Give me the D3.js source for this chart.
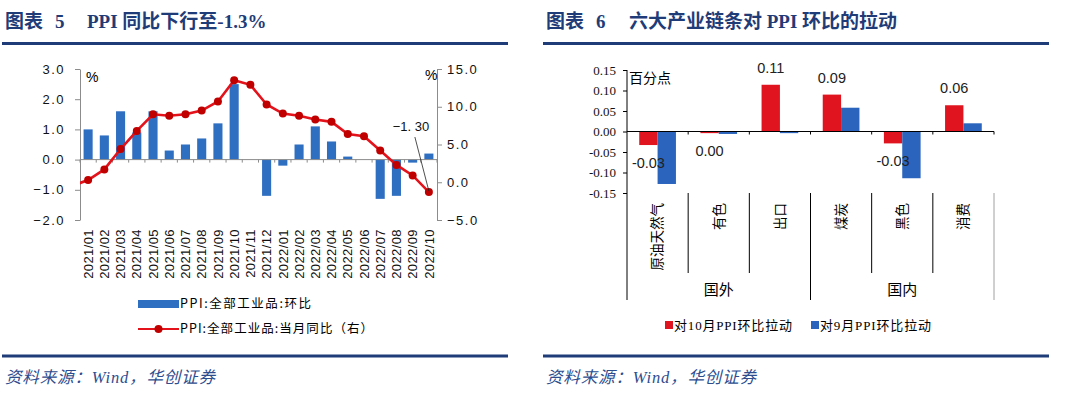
<!DOCTYPE html>
<html><head><meta charset="utf-8">
<script src="https://cdn.jsdelivr.net/npm/d3@7"></script>
<style>body{margin:0;background:#fff}svg{display:block}</style>
</head><body><svg id="c" width="1067" height="399"></svg>
<script>
// ---------- data: left chart ----------
const months = ["2021/01","2021/02","2021/03","2021/04","2021/05","2021/06","2021/07","2021/08","2021/09","2021/10","2021/11","2021/12",
                "2022/01","2022/02","2022/03","2022/04","2022/05","2022/06","2022/07","2022/08","2022/09","2022/10"];
const momValues = [1.0,0.8,1.6,0.9,1.6,0.3,0.5,0.7,1.2,2.5,0.0,-1.2,-0.2,0.5,1.1,0.6,0.1,0.0,-1.3,-1.2,-0.1,0.2];
const yoyValues = [0.3,1.7,4.4,6.8,9.0,8.8,9.0,9.5,10.7,13.5,12.9,10.3,9.1,8.8,8.3,8.0,6.4,6.1,4.2,2.3,0.9,-1.3];
const yoyPrevValue = -0.5;           // 2020/12, only its segment into the plot is visible
const leftTicks = [-2,-1,0,1,2,3];
const rightTicks = [-5,0,5,10,15];
const momName = "PPI:全部工业品:环比";
const yoyName = "PPI:全部工业品:当月同比（右）";
const lastLabel = "−1. 30";

// ---------- data: right chart ----------
const chains = ["原油天然气","有色","出口","煤炭","黑色","消费"];
const chainGroups = ["国外","国内"];
const chainsPerGroup = [3,3];
const pullOct = [-0.033,-0.004,0.114,0.090,-0.029,0.064];
const pullSep = [-0.128,-0.006,-0.004,0.058,-0.114,0.020];
const pullTicks = [-0.15,-0.10,-0.05,0,0.05,0.10,0.15];
const octName = "对10月PPI环比拉动";
const sepName = "对9月PPI环比拉动";

const svg = d3.select("#c");
const NAVY = "#1f3c78";
const CJK = "'Noto Sans CJK SC', sans-serif";
const TITLE_FONT = "'Liberation Serif', 'Noto Sans CJK SC'";

// ---------- headers / footers ----------
function header(x0, x1, num, title, numX, subX){
  svg.append("text").attr("x", x0+3).attr("y", 28).attr("fill", NAVY)
    .attr("font-family", TITLE_FONT).attr("font-weight", "bold").attr("font-size", 19).text("图表");
  svg.append("text").attr("x", numX).attr("y", 28).attr("fill", NAVY)
    .attr("font-family", TITLE_FONT).attr("font-weight", "bold").attr("font-size", 19).text(num);
  svg.append("text").attr("x", subX).attr("y", 28).attr("fill", NAVY)
    .attr("font-family", TITLE_FONT).attr("font-weight", "bold").attr("font-size", 19).text(title);
  svg.append("rect").attr("x", x0).attr("y", 42).attr("width", x1-x0).attr("height", 3).attr("fill", NAVY);
  svg.append("rect").attr("x", x0).attr("y", 354.5).attr("width", x1-x0).attr("height", 3).attr("fill", NAVY);
  svg.append("text").attr("x", x0+3).attr("y", 383).attr("fill", "#2d4d8f")
    .attr("font-family", TITLE_FONT).attr("font-style", "italic").attr("font-size", 16.5)
    .attr("textLength", 210).attr("lengthAdjust", "spacing")
    .text("资料来源：Wind，华创证券");
}
header(2, 508, "5", "PPI 同比下行至-1.3%", 55, 87);
header(543, 1049, "6", "六大产业链条对 PPI 环比的拉动", 596, 629);

// ---------- left chart ----------
const L = {x0: 80, x1: 437, yTop: 69, yBot: 220};
const xL = d3.scaleBand().domain(months).range([L.x0, L.x1]).paddingInner(0.44).paddingOuter(0.22);
const yL = d3.scaleLinear().domain([-2, 3]).range([L.yBot, L.yTop]);
const yR = d3.scaleLinear().domain([-5, 15]).range([L.yBot, L.yTop]);
const BLUE = "#2f6fc2", RED = "#e3121b", DRED = "#c00000";

// bars
svg.append("g").selectAll("rect").data(months).join("rect")
  .attr("x", d => xL(d)).attr("width", xL.bandwidth())
  .attr("y", (d,i) => yL(Math.max(0, momValues[i])))
  .attr("height", (d,i) => Math.abs(yL(momValues[i]) - yL(0)))
  .attr("fill", BLUE);

// axes
const axL = svg.append("g").attr("transform", `translate(${L.x0},0)`)
  .call(d3.axisLeft(yL).tickValues(leftTicks).tickFormat(d3.format(".1f")).tickSize(5).tickSizeOuter(0).tickPadding(10));
const axR = svg.append("g").attr("transform", `translate(${L.x1},0)`)
  .call(d3.axisRight(yR).tickValues(rightTicks).tickFormat(d3.format(".1f")).tickSize(5).tickSizeOuter(0).tickPadding(5));
[axL, axR].forEach(a => {
  a.selectAll("path,line").attr("stroke", "#8c8c8c");
  a.selectAll("text").attr("font-family", "'Liberation Sans', sans-serif").attr("font-size", 13)
    .attr("letter-spacing", 1.5).attr("fill", "#111");
});
// zero line with ticks
svg.append("line").attr("x1", L.x0).attr("x2", L.x1).attr("y1", yL(0)).attr("y2", yL(0)).attr("stroke", "#8c8c8c");
svg.append("g").selectAll("line").data(d3.range(months.length + 1)).join("line")
  .attr("x1", i => L.x0 + i * xL.step()).attr("x2", i => L.x0 + i * xL.step())
  .attr("y1", yL(0)).attr("y2", yL(0) + 3).attr("stroke", "#8c8c8c");

// x labels
svg.append("g").selectAll("text").data(months).join("text")
  .attr("transform", d => `translate(${xL(d) + xL.bandwidth()/2},229) rotate(-90)`)
  .attr("text-anchor", "end").attr("dy", "0.36em")
  .attr("font-family", "'Liberation Sans', sans-serif").attr("font-size", 13).attr("letter-spacing", 0.4).attr("fill", "#111")
  .text(d => d);

// units
svg.append("text").attr("x", 86).attr("y", 82).attr("font-family", "'Liberation Sans', sans-serif").attr("font-size", 14).text("%");
svg.append("text").attr("x", 425).attr("y", 80).attr("font-family", "'Liberation Sans', sans-serif").attr("font-size", 14).text("%");

// line
svg.append("clipPath").attr("id", "clipL").append("rect")
  .attr("x", L.x0).attr("y", L.yTop - 10).attr("width", L.x1 - L.x0).attr("height", L.yBot - L.yTop + 20);
const cx = i => xL(months[0]) + xL.bandwidth()/2 + i * xL.step();
const linePts = [[cx(-1), yR(yoyPrevValue)]].concat(yoyValues.map((v,i) => [cx(i), yR(v)]));
svg.append("path").attr("clip-path", "url(#clipL)").attr("d", d3.line()(linePts))
  .attr("fill", "none").attr("stroke", RED).attr("stroke-width", 2.6);
svg.append("g").selectAll("circle").data(yoyValues).join("circle")
  .attr("cx", (d,i) => cx(i)).attr("cy", d => yR(d)).attr("r", 4).attr("fill", DRED);

// annotation
const li = yoyValues.length - 1;
svg.append("line").attr("x1", cx(li) - 14).attr("y1", 137).attr("x2", cx(li)).attr("y2", yR(yoyValues[li]) - 1)
  .attr("stroke", "#222").attr("stroke-width", 0.8);
svg.append("text").attr("x", cx(li) - 18).attr("y", 131).attr("text-anchor", "middle")
  .attr("font-family", "'Liberation Sans', sans-serif").attr("font-size", 13).attr("fill", "#111").text(lastLabel);

// legend
svg.append("rect").attr("x", 138).attr("y", 300).attr("width", 41).attr("height", 8).attr("fill", BLUE);
svg.append("text").attr("x", 180).attr("y", 304).attr("dy", "0.35em").attr("font-family", CJK).attr("font-size", 12.5)
  .attr("textLength", 131).attr("lengthAdjust", "spacing").text(momName);
svg.append("line").attr("x1", 138).attr("x2", 179).attr("y1", 329).attr("y2", 329).attr("stroke", RED).attr("stroke-width", 2.2);
svg.append("circle").attr("cx", 158.5).attr("cy", 329).attr("r", 4).attr("fill", DRED);
svg.append("text").attr("x", 180).attr("y", 329).attr("dy", "0.35em").attr("font-family", CJK).attr("font-size", 12.5)
  .attr("textLength", 193).attr("lengthAdjust", "spacing").text(yoyName);

// ---------- right chart ----------
const R = {x0: 627, x1: 994, yTop: 70, yBot: 193};
const R_RED = "#e0141e", R_BLUE = "#2a64bd";
const xG = d3.scaleBand().domain(chains).range([R.x0, R.x1]).paddingInner(0.4).paddingOuter(0.2);
const xS = d3.scaleBand().domain(["oct","sep"]).range([0, xG.bandwidth()]);
const yP = d3.scaleLinear().domain([-0.15, 0.15]).range([R.yBot, R.yTop]);
const gEdge = i => R.x0 + i * xG.step();

const barData = [];
chains.forEach((c,i) => { barData.push({c, k:"oct", v: pullOct[i]}); barData.push({c, k:"sep", v: pullSep[i]}); });
svg.append("g").selectAll("rect").data(barData).join("rect")
  .attr("x", d => xG(d.c) + xS(d.k)).attr("width", xS.bandwidth())
  .attr("y", d => yP(Math.max(0, d.v))).attr("height", d => Math.abs(yP(d.v) - yP(0)))
  .attr("fill", d => d.k === "oct" ? R_RED : R_BLUE);

const fmt2 = v => d3.format(".2f")(v).replace("−", "-");
const axP = svg.append("g").attr("transform", `translate(${R.x0},0)`)
  .call(d3.axisLeft(yP).tickValues(pullTicks).tickFormat(fmt2).tickSize(4).tickSizeOuter(0).tickPadding(7));
axP.select("path").remove();
axP.selectAll("line").attr("stroke", "#000");
axP.selectAll("text").attr("font-family", "'Liberation Serif', serif").attr("font-size", 13).attr("fill", "#111");

// left axis line continuing into the category area
svg.append("line").attr("x1", R.x0).attr("x2", R.x0).attr("y1", R.yTop).attr("y2", 300).attr("stroke", "#000");
// zero line with ticks
svg.append("line").attr("x1", R.x0).attr("x2", R.x1).attr("y1", yP(0)).attr("y2", yP(0)).attr("stroke", "#000");
svg.append("g").selectAll("line").data(d3.range(1, chains.length + 1)).join("line")
  .attr("x1", gEdge).attr("x2", gEdge).attr("y1", yP(0)).attr("y2", yP(0) + 3).attr("stroke", "#000");

// category dividers
let acc = 0; const groupEdges = [0];
chainsPerGroup.forEach(n => { acc += n; groupEdges.push(acc); });
svg.append("g").selectAll("line").data(d3.range(1, chains.length + 1)).join("line")
  .attr("x1", gEdge).attr("x2", gEdge)
  .attr("y1", R.yBot).attr("y2", i => groupEdges.includes(i) ? 300 : 273)
  .attr("stroke", i => i === chains.length ? "#a0a0a0" : "#000");
svg.append("g").selectAll("text").data(chains).join("text")
  .attr("transform", d => `translate(${xG(d) + xG.bandwidth()/2},203) rotate(-90)`)
  .attr("text-anchor", "end").attr("dy", "0.36em")
  .attr("font-family", CJK).attr("font-size", 13.5).attr("fill", "#000").text(d => d);
svg.append("g").selectAll("text").data(chainGroups).join("text")
  .attr("x", (d,i) => (gEdge(groupEdges[i]) + gEdge(groupEdges[i+1])) / 2).attr("y", 290).attr("dy", "0.35em")
  .attr("text-anchor", "middle").attr("font-family", CJK).attr("font-size", 15).attr("fill", "#000").text(d => d);

// data labels
svg.append("g").selectAll("text").data(pullOct).join("text")
  .attr("x", (d,i) => xG(chains[i]) + xS("oct") + xS.bandwidth()/2)
  .attr("y", d => d >= 0 ? yP(d) - 12 : yP(d) + 23)
  .attr("text-anchor", "middle").attr("font-family", "'Liberation Sans', sans-serif").attr("font-size", 14.5)
  .attr("fill", "#222").text(d => fmt2(d));

svg.append("text").attr("x", 629).attr("y", 78).attr("dy", "0.35em").attr("font-family", CJK).attr("font-size", 14).text("百分点");

// legend
svg.append("rect").attr("x", 665).attr("y", 321).attr("width", 8).attr("height", 8).attr("fill", R_RED);
svg.append("text").attr("x", 674).attr("y", 325).attr("dy", "0.35em").attr("font-family", TITLE_FONT)
  .attr("font-size", 13).attr("textLength", 118).attr("lengthAdjust", "spacing").text(octName);
svg.append("rect").attr("x", 811).attr("y", 321).attr("width", 8).attr("height", 8).attr("fill", R_BLUE);
svg.append("text").attr("x", 820).attr("y", 325).attr("dy", "0.35em").attr("font-family", TITLE_FONT)
  .attr("font-size", 13).attr("textLength", 111).attr("lengthAdjust", "spacing").text(sepName);
</script></body></html>
